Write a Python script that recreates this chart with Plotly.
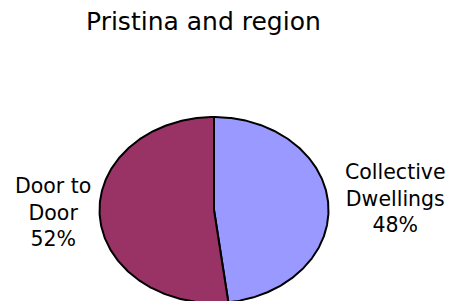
import numpy as np
import plotly.graph_objects as go

# Data
categories = ["Collective Dwellings", "Door to Door"]
values = [48, 52]
colors = ["#9999FF", "#993366"]
title_text = "Pristina and region"

W, H = 462, 301
OFF = 8  # page body margin compensation
# Ellipse geometry in pixels (layout)
cx, cy, rx, ry = 214.0 - OFF, 210.0 - OFF, 114.5, 93.0

fig = go.Figure()
total = float(sum(values))
start = 0.0
for cat, v, col in zip(categories, values, colors):
    frac = v / total
    th = np.linspace(start, start + frac, 240) * 2 * np.pi
    xs = np.concatenate([[0.0], np.sin(th), [0.0]])
    ys = np.concatenate([[0.0], np.cos(th), [0.0]])
    fig.add_trace(go.Scatter(x=xs, y=ys, mode="lines", fill="toself",
                             fillcolor=col, line=dict(color="black", width=2),
                             hoverinfo="skip", showlegend=False, name=cat))
    start += frac

xr = [(0 - cx) / rx, (W - cx) / rx]
yr = [(cy - H) / ry, (cy - 0) / ry]

def px2data(px, py):
    return (px - OFF - cx) / rx, (cy - (py - OFF)) / ry

font = "DejaVu Sans, Arial, sans-serif"
label_pos = [(395, 198), (53, 212)]
label_lines = [["Collective", "Dwellings"], ["Door to", "Door"]]
annotations = []
for v, (lx, ly), lines in zip(values, label_pos, label_lines):
    txt = "<br>".join(lines + [f"{round(100 * v / total)}%"])
    dx, dy = px2data(lx, ly)
    annotations.append(dict(x=dx, y=dy, xref="x", yref="y", text=txt,
                            showarrow=False, xanchor="center", yanchor="middle",
                            font=dict(family=font, size=20.5, color="black")))

annotations.append(dict(x=(203 - OFF) / W, y=1 - (22 - OFF) / H, xref="paper", yref="paper",
                        text=title_text, showarrow=False, xanchor="center",
                        yanchor="middle", font=dict(family=font, size=25, color="black")))

fig.update_layout(
    width=W, height=H,
    margin=dict(l=0, r=0, t=0, b=0),
    paper_bgcolor="white", plot_bgcolor="white",
    xaxis=dict(range=xr, visible=False, fixedrange=True),
    yaxis=dict(range=yr, visible=False, fixedrange=True),
    annotations=annotations,
)
fig.write_html("out.html")
